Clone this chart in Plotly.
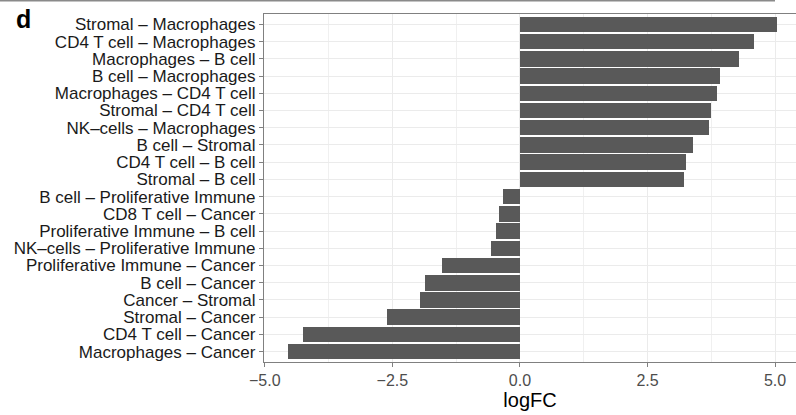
import plotly.graph_objects as go

categories = [
    "Stromal – Macrophages",
    "CD4 T cell – Macrophages",
    "Macrophages – B cell",
    "B cell – Macrophages",
    "Macrophages – CD4 T cell",
    "Stromal – CD4 T cell",
    "NK–cells – Macrophages",
    "B cell – Stromal",
    "CD4 T cell – B cell",
    "Stromal – B cell",
    "B cell – Proliferative Immune",
    "CD8 T cell – Cancer",
    "Proliferative Immune – B cell",
    "NK–cells – Proliferative Immune",
    "Proliferative Immune – Cancer",
    "B cell – Cancer",
    "Cancer – Stromal",
    "Stromal – Cancer",
    "CD4 T cell – Cancer",
    "Macrophages – Cancer",
]
logfc = [5.03, 4.58, 4.30, 3.92, 3.86, 3.75, 3.70, 3.39, 3.25, 3.21,
         -0.33, -0.41, -0.46, -0.56, -1.52, -1.87, -1.95, -2.60, -4.26, -4.54]

x_ticks = [-5.0, -2.5, 0.0, 2.5, 5.0]
x_ticktext = ["−5.0", "−2.5", "0.0", "2.5", "5.0"]

W, H = 796, 415
L, R, T, B = 264, 0, 14, 53
pw, ph = W - L - R, H - T - B

fig = go.Figure()
fig.add_trace(go.Bar(
    x=logfc, y=categories, orientation="h",
    width=0.9,
    marker=dict(color="#595959", line=dict(width=0)),
))

font_family = "Liberation Sans, Arial, sans-serif"
axis_col = "#808080"

fig.update_layout(
    width=W, height=H,
    margin=dict(l=L, r=R, t=T, b=B, pad=0),
    paper_bgcolor="white", plot_bgcolor="white",
    showlegend=False,
    bargap=0,
    font=dict(family=font_family, color="#1a1a1a"),
    xaxis=dict(
        range=[-5.016, 5.41],
        tickmode="array", tickvals=x_ticks, ticktext=x_ticktext,
        ticks="outside", ticklen=4, tickwidth=1, tickcolor=axis_col,
        tickfont=dict(size=16, color="#4d4d4d"),
        showgrid=True, gridcolor="#ebebeb", gridwidth=1.2,
        minor=dict(tickvals=[-3.75, -1.25, 1.25, 3.75], showgrid=True,
                   gridcolor="#f0f0f0", gridwidth=1),
        zeroline=False,
        showline=True, linecolor=axis_col, linewidth=1.2, mirror=True,
        title=dict(text="logFC", font=dict(size=20, color="#000000"), standoff=3),
    ),
    yaxis=dict(
        categoryorder="array", categoryarray=categories,
        tickmode="array", tickvals=categories, ticktext=categories,
        range=[len(categories) - 0.4, -0.6],
        ticks="outside", ticklen=4, tickwidth=1, tickcolor=axis_col,
        tickfont=dict(size=17, color="#1a1a1a"),
        showgrid=True, gridcolor="#ebebeb", gridwidth=1.2,
        zeroline=False,
        showline=True, linecolor=axis_col, linewidth=1.2,
    ),
)

# thin line at very top of figure (remnant of panel above)
fig.add_shape(type="line", xref="paper", yref="paper",
              x0=(0 - L) / pw, x1=(775 - L) / pw,
              y0=1 + (T - 0.8) / ph, y1=1 + (T - 0.8) / ph,
              line=dict(color="#8a8a8a", width=1.5))

fig.add_annotation(text="<b>d</b>", xref="paper", yref="paper",
                   x=(14 - L) / pw, y=1 - (19 - T) / ph,
                   xanchor="left", yanchor="middle", showarrow=False,
                   font=dict(size=25, color="#000000", family=font_family))

fig.write_html("out.html")
